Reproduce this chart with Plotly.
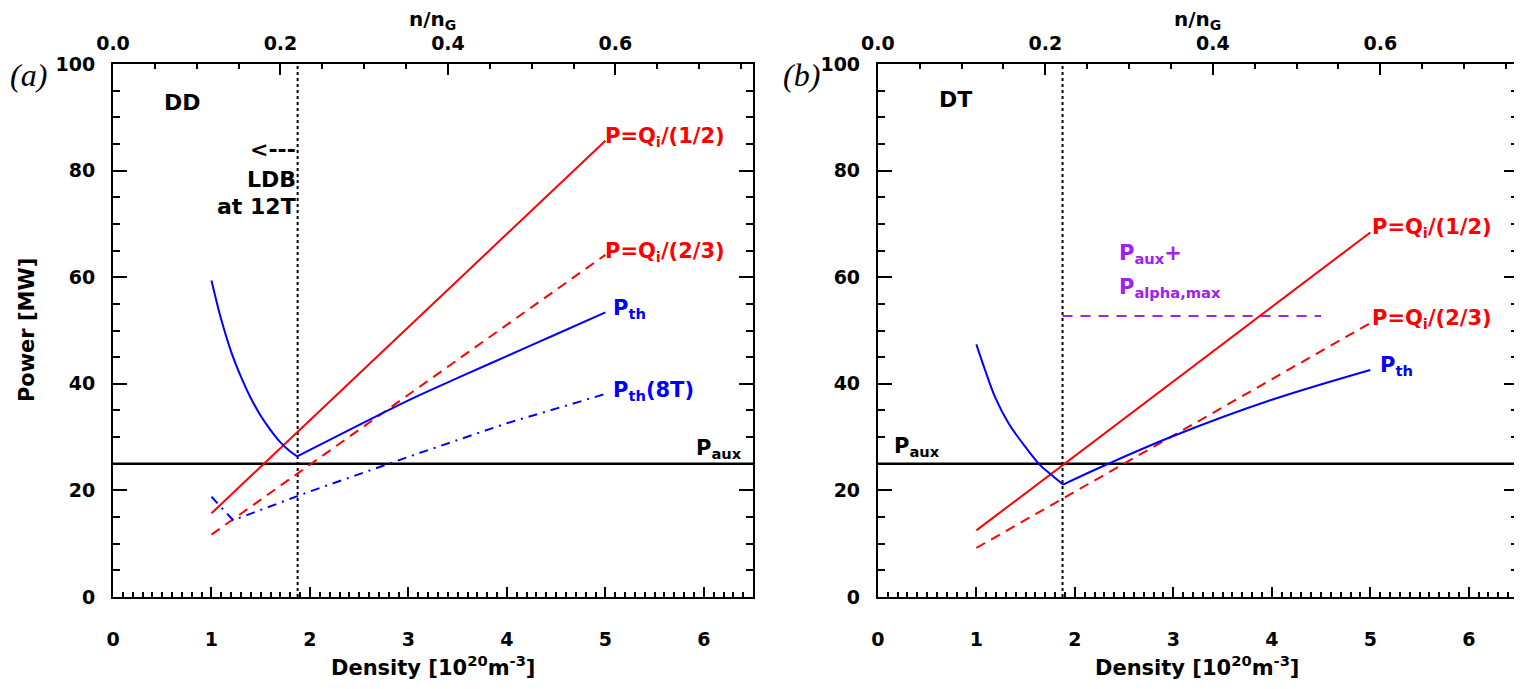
import plotly.graph_objects as go

# --- data ---
DENSITY_RANGE = [0.0, 6.5]          # 10^20 m^-3
POWER_RANGE = [0.0, 100.0]          # MW
NG_PER_DENSITY = 0.1176             # n/nG per 10^20 m^-3
LDB_DENSITY = 1.875                 # low density boundary at 12T
P_AUX = 25.0
P_AUX_ALPHA_MAX = 52.7
AUX_ALPHA_X = [1.875, 4.5]

LINE_X = [1.0, 5.0]
DD_QI_HALF = [15.7, 85.6]
DD_QI_TWOTHIRDS = [11.7, 64.2]
DD_PTH_LOW_X = [1.0, 1.1, 1.2, 1.3, 1.4, 1.5, 1.6, 1.7, 1.8, 1.87]
DD_PTH_LOW_Y = [59.4, 52.0, 46.0, 41.3, 37.3, 34.0, 31.3, 29.0, 27.3, 26.4]
DD_PTH_HIGH_X = [1.87, 2.5, 3.0, 3.5, 4.0, 4.5, 5.0]
DD_PTH_HIGH_Y = [26.4, 32.3, 36.9, 41.1, 45.2, 49.3, 53.4]
DD_PTH8_X = [1.0, 1.22, 2.0, 3.0, 4.0, 5.0]
DD_PTH8_Y = [18.8, 14.4, 19.8, 26.3, 32.6, 38.1]

DT_QI_HALF = [12.5, 68.4]
DT_QI_TWOTHIRDS = [9.2, 51.4]
DT_PTH_LOW_X = [1.0, 1.09, 1.19, 1.33, 1.5, 1.65, 1.77, 1.88]
DT_PTH_LOW_Y = [47.4, 42.5, 37.5, 32.5, 28.1, 24.7, 22.8, 21.1]
DT_PTH_HIGH_X = [1.88, 2.34, 3.0, 4.0, 5.0]
DT_PTH_HIGH_Y = [21.1, 25.0, 30.2, 37.0, 42.6]

RED = "#ff0000"
BLUE = "#0000ff"
PURPLE = "#a020f0"
FONT = "DejaVu Sans"

fig = go.Figure()


def line(x, y, color, dash, xa, ya, width=2, shape="linear"):
    fig.add_trace(go.Scatter(x=x, y=y, mode="lines", xaxis=xa, yaxis=ya,
                             line=dict(color=color, width=width, dash=dash, shape=shape),
                             hoverinfo="skip"))


# panel (a): DD
line(DENSITY_RANGE, [P_AUX, P_AUX], "black", "solid", "x", "y", 2.5)
line([LDB_DENSITY, LDB_DENSITY], POWER_RANGE, "black", "dot", "x", "y", 2)
line(LINE_X, DD_QI_HALF, RED, "solid", "x", "y")
line(LINE_X, DD_QI_TWOTHIRDS, RED, "10px,7px", "x", "y")
line(DD_PTH_LOW_X, DD_PTH_LOW_Y, BLUE, "solid", "x", "y", shape="spline")
line(DD_PTH_HIGH_X, DD_PTH_HIGH_Y, BLUE, "solid", "x", "y", shape="spline")
line(DD_PTH8_X, DD_PTH8_Y, BLUE, "9px,6px,2px,6px", "x", "y")
fig.add_trace(go.Scatter(x=[], y=[], xaxis="x2", yaxis="y", showlegend=False))

# panel (b): DT
line(DENSITY_RANGE, [P_AUX, P_AUX], "black", "solid", "x3", "y2", 2.5)
line([LDB_DENSITY, LDB_DENSITY], POWER_RANGE, "black", "dot", "x3", "y2", 2)
line(AUX_ALPHA_X, [P_AUX_ALPHA_MAX, P_AUX_ALPHA_MAX], PURPLE, "10px,8px", "x3", "y2")
line(LINE_X, DT_QI_HALF, RED, "solid", "x3", "y2")
line(LINE_X, DT_QI_TWOTHIRDS, RED, "10px,7px", "x3", "y2")
line(DT_PTH_LOW_X, DT_PTH_LOW_Y, BLUE, "solid", "x3", "y2", shape="spline")
line(DT_PTH_HIGH_X, DT_PTH_HIGH_Y, BLUE, "solid", "x3", "y2", shape="spline")
fig.add_trace(go.Scatter(x=[], y=[], xaxis="x4", yaxis="y2", showlegend=False))

tickfont = dict(family=FONT, size=19, color="black", weight="bold")


def xbottom(domain, anchor):
    return dict(domain=domain, anchor=anchor, range=DENSITY_RANGE, dtick=1, tick0=0,
                ticks="inside", ticklen=10, tickwidth=2, tickcolor="black",
                minor=dict(dtick=0.1, ticks="inside", ticklen=5, tickwidth=1.5, tickcolor="black"),
                showline=True, linewidth=2, linecolor="black", showgrid=False, zeroline=False,
                tickfont=tickfont, ticklabelstandoff=24)


def xtop(over, anchor):
    return dict(overlaying=over, anchor=anchor, side="top",
                range=[DENSITY_RANGE[0] * NG_PER_DENSITY, DENSITY_RANGE[1] * NG_PER_DENSITY],
                dtick=0.2, tick0=0, tickformat=".1f",
                ticks="inside", ticklen=11, tickwidth=2, tickcolor="black",
                minor=dict(dtick=0.05, ticks="inside", ticklen=5, tickwidth=1.5, tickcolor="black"),
                showline=True, linewidth=2, linecolor="black", showgrid=False, zeroline=False,
                tickfont=tickfont, ticklabelstandoff=4)


def yaxis(anchor):
    return dict(anchor=anchor, domain=[0, 1], range=POWER_RANGE, dtick=20, tick0=0,
                ticks="inside", ticklen=14, tickwidth=2, tickcolor="black",
                minor=dict(dtick=5, ticks="inside", ticklen=7, tickwidth=1.5, tickcolor="black"),
                showline=True, linewidth=2, linecolor="black", mirror="ticks",
                showgrid=False, zeroline=False, tickfont=tickfont, ticklabelstandoff=12)


LEFT = [0, 0.4556]
RIGHT = [0.5444, 1.0]

# page body has an 8px margin, so margins are trimmed to land the plot at the same pixels
fig.update_layout(
    width=1522, height=689,
    margin=dict(l=105, r=10, t=56, b=100),
    paper_bgcolor="white", plot_bgcolor="white",
    showlegend=False,
    xaxis=xbottom(LEFT, "y"),
    xaxis2=xtop("x", "y"),
    xaxis3=xbottom(RIGHT, "y2"),
    xaxis4=xtop("x3", "y2"),
    yaxis=yaxis("x"),
    yaxis2=yaxis("x3"),
)

ann = []


def text(x, y, s, color="black", xa="x", ya="y", size=21, xanchor="left"):
    ann.append(dict(x=x, y=y, xref=xa, yref=ya, text=s, showarrow=False,
                    xanchor=xanchor, yanchor="middle",
                    font=dict(family=FONT, size=size, color=color, weight="bold")))


# panel (a) labels
text(0.71, 92.7, "DD", xanchor="center", size=22)
text(1.88, 83.9, "<---", xanchor="right", size=22)
text(1.88, 78.4, "LDB", xanchor="right", size=22)
text(1.88, 73.2, "at 12T", xanchor="right", size=22)
text(4.98, 86.3, "P=Q<sub>i</sub>/(1/2)", RED)
text(4.98, 64.8, "P=Q<sub>i</sub>/(2/3)", RED)
text(5.06, 54.0, "P<sub>th</sub>", BLUE)
text(5.06, 38.7, "P<sub>th</sub>(8T)", BLUE)
text(5.9, 27.8, "P<sub>aux</sub>")

# panel (b) labels
text(0.79, 93.4, "DT", xa="x3", ya="y2", xanchor="center", size=22)
text(5.0, 69.3, "P=Q<sub>i</sub>/(1/2)", RED, "x3", "y2")
text(5.0, 52.1, "P=Q<sub>i</sub>/(2/3)", RED, "x3", "y2")
text(5.08, 43.4, "P<sub>th</sub>", BLUE, "x3", "y2")
text(2.43, 64.4, "P<sub>aux</sub>+", PURPLE, "x3", "y2")
text(2.43, 58.0, "P<sub>alpha,max</sub>", PURPLE, "x3", "y2")
text(0.14, 28.1, "P<sub>aux</sub>", xa="x3", ya="y2")

# axis titles and panel tags, placed by screen pixel
plot_w = 1407
plot_h = 533


def paper_px(px, py, s, size=21, angle=0, family=FONT, bold=True):
    ann.append(dict(x=(px - 113) / plot_w, y=(597 - py) / plot_h, xref="paper", yref="paper",
                    text=s, showarrow=False, xanchor="center", yanchor="middle", textangle=angle,
                    font=dict(family=family, size=size, color="black",
                              weight="bold" if bold else "normal")))


for cx in (433, 1199):
    paper_px(cx, 666, "Density [10<sup>20</sup>m<sup>-3</sup>]")
    paper_px(cx, 20, "n/n<sub>G</sub>", size=20)
paper_px(28, 75, "<i>(a)</i>", size=32, family="Liberation Serif", bold=False)
paper_px(27, 330, "Power [MW]", angle=-90)
paper_px(802, 75, "<i>(b)</i>", size=32, family="Liberation Serif", bold=False)

fig.update_layout(annotations=ann)
fig.write_html("out.html")
